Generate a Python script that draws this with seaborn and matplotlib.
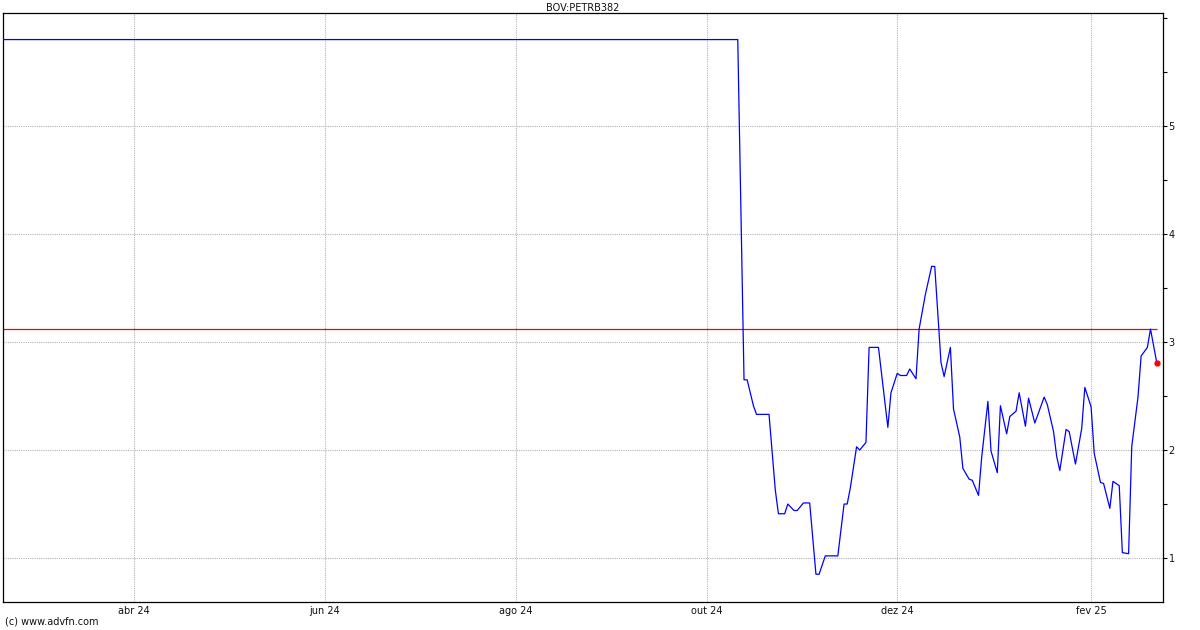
import matplotlib
matplotlib.use("Agg")
import matplotlib.pyplot as plt
import matplotlib.dates as mdates
from matplotlib.ticker import MultipleLocator
import pandas as pd
import seaborn as sns

title = "BOV:PETRB382"
credit = "(c) www.advfn.com"

dates = [
    "2024-02-19", "2024-10-11", "2024-10-13", "2024-10-14", "2024-10-16", "2024-10-17",
    "2024-10-21", "2024-10-23", "2024-10-24", "2024-10-26", "2024-10-27", "2024-10-29",
    "2024-10-30", "2024-11-01", "2024-11-03", "2024-11-05", "2024-11-06", "2024-11-08",
    "2024-11-12", "2024-11-14", "2024-11-15", "2024-11-16", "2024-11-18", "2024-11-19",
    "2024-11-21", "2024-11-22", "2024-11-25", "2024-11-28", "2024-11-29", "2024-12-01",
    "2024-12-02", "2024-12-04", "2024-12-05", "2024-12-07", "2024-12-08", "2024-12-10",
    "2024-12-12", "2024-12-13", "2024-12-15", "2024-12-16", "2024-12-18", "2024-12-19",
    "2024-12-21", "2024-12-22", "2024-12-24", "2024-12-25", "2024-12-27", "2024-12-28",
    "2024-12-30", "2024-12-31", "2025-01-02", "2025-01-03", "2025-01-05", "2025-01-06",
    "2025-01-08", "2025-01-09", "2025-01-11", "2025-01-12", "2025-01-14", "2025-01-17",
    "2025-01-18", "2025-01-20", "2025-01-21", "2025-01-22", "2025-01-24", "2025-01-25",
    "2025-01-27", "2025-01-29", "2025-01-30", "2025-02-01", "2025-02-02", "2025-02-04",
    "2025-02-05", "2025-02-07", "2025-02-08", "2025-02-10", "2025-02-11", "2025-02-13",
    "2025-02-14", "2025-02-16", "2025-02-17", "2025-02-19", "2025-02-20", "2025-02-22",
]
prices = [
    5.80, 5.80, 2.65, 2.65, 2.41, 2.33,
    2.33, 1.63, 1.41, 1.41, 1.50, 1.44,
    1.44, 1.51, 1.51, 0.85, 0.85, 1.02,
    1.02, 1.50, 1.50, 1.65, 2.03, 2.00,
    2.07, 2.95, 2.95, 2.21, 2.53, 2.71,
    2.69, 2.69, 2.75, 2.66, 3.12, 3.44,
    3.70, 3.70, 2.81, 2.68, 2.95, 2.38,
    2.12, 1.83, 1.73, 1.72, 1.58, 1.93,
    2.45, 1.99, 1.79, 2.41, 2.15, 2.31,
    2.36, 2.53, 2.22, 2.48, 2.25, 2.49,
    2.42, 2.17, 1.94, 1.81, 2.19, 2.17,
    1.87, 2.20, 2.58, 2.40, 1.97, 1.70,
    1.69, 1.46, 1.71, 1.67, 1.05, 1.04,
    2.03, 2.49, 2.87, 2.95, 3.12, 2.81,
]
ref_level = 3.12

tick_dates = ["2024-04-01", "2024-06-01", "2024-08-01", "2024-10-01", "2024-12-01", "2025-02-01"]
tick_labels = ["abr 24", "jun 24", "ago 24", "out 24", "dez 24", "fev 25"]
y_ticks = [1, 2, 3, 4, 5]

df = pd.DataFrame({"date": pd.to_datetime(dates), "price": prices})

sns.set_theme(style="white")
plt.rcParams["font.family"] = ["DejaVu Sans"]

fig = plt.figure(figsize=(12, 6.3), dpi=100)
ax = fig.add_axes([3 / 1200, 28 / 630, 1160 / 1200, 589 / 630])

ax.hlines(ref_level, df["date"].iloc[0], df["date"].iloc[-1], color="#ff0000", lw=0.9, zorder=2)
sns.lineplot(data=df, x="date", y="price", color="#0000ff", lw=0.9, ax=ax, zorder=3, sort=True)
ax.plot(df["date"].iloc[-1], df["price"].iloc[-1], "o", color="#ff0000", ms=3.5, zorder=4)

ax.set_xlim(pd.Timestamp("2024-02-19"), pd.Timestamp("2025-02-24"))
ax.set_ylim(0.593, 6.046)

ax.set_xticks(pd.to_datetime(tick_dates))
ax.set_xticklabels(tick_labels, fontsize=7, color="#111111")
ax.set_yticks(y_ticks)
ax.set_yticklabels([str(v) for v in y_ticks], fontsize=7, color="#111111")
ax.yaxis.set_minor_locator(MultipleLocator(0.5))
ax.yaxis.tick_right()
ax.tick_params(axis="y", which="both", direction="out", length=3, width=0.8, color="black", pad=1,
               left=False, right=True)
ax.tick_params(axis="x", which="both", length=0, pad=3)

ax.grid(True, which="major", color="#b4b4b4", lw=0.8, linestyle=(0, (1, 1)))
ax.set_axisbelow(True)
for s in ax.spines.values():
    s.set_visible(True)
    s.set_color("black")
    s.set_linewidth(0.9)

ax.set_xlabel("")
ax.set_ylabel("")
fig.text(583 / 1200, 1 - 8 / 630, title, ha="center", va="center", fontsize=7, color="#111111")
fig.text(5 / 1200, 1 - 622 / 630, credit, ha="left", va="center", fontsize=7, color="#111111")

fig.savefig("out.png", dpi=100, facecolor="white")
